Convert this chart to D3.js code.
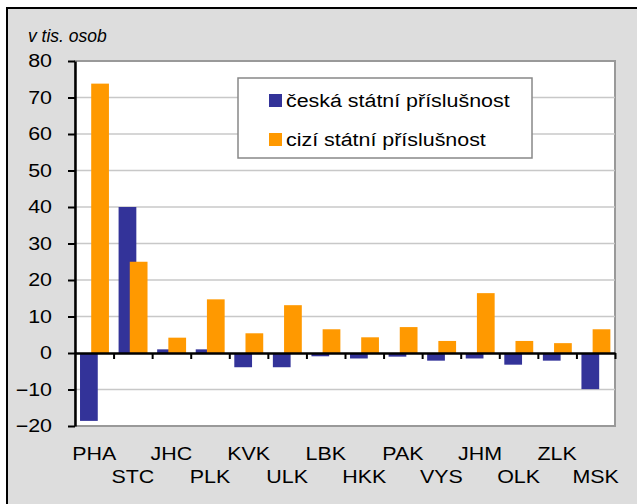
<!DOCTYPE html>
<html>
<head>
<meta charset="utf-8">
<script src="https://cdn.jsdelivr.net/npm/d3@7"></script>
<style>
  body { margin: 0; background: #fff; overflow: hidden; }
  text { font-family: "Liberation Sans", Arial, sans-serif; fill: #000; }
</style>
</head>
<body>
<div id="plot"></div>
<script>
// data (v tis. osob)
const categories = ["PHA", "STC", "JHC", "PLK", "KVK", "ULK", "LBK", "HKK", "PAK", "VYS", "JHM", "OLK", "ZLK", "MSK"];
const seriesNames = ["česká státní příslušnost", "cizí státní příslušnost"];
const ceska = [-18.6, 40.0, 1.0, 1.0, -3.9, -3.9, -0.9, -1.5, -1.0, -2.1, -1.5, -3.2, -2.1, -9.9];
const cizi = [73.8, 25.0, 4.2, 14.7, 5.4, 13.1, 6.5, 4.3, 7.1, 3.3, 16.4, 3.3, 2.7, 6.5];
const yTicks = [-20, -10, 0, 10, 20, 30, 40, 50, 60, 70, 80];
const colors = ["#333399", "#FF9900"];

const w = 637, h = 504;
const margin = {top: 61, right: 22, bottom: 78, left: 75};
const innerWidth = w - margin.left - margin.right;
const innerHeight = h - margin.top - margin.bottom;

// the original text is slightly stretched horizontally
const fs = 18;
const sx = 1.19;

const svg = d3.select("#plot").append("svg")
    .attr("width", w)
    .attr("height", h);

// outer frame
svg.append("rect")
    .attr("x", 7).attr("y", 8)
    .attr("width", w - 7).attr("height", h - 8)
    .attr("fill", "#dddddd");
svg.append("path")
    .attr("d", `M7,${h}V8H${w}`)
    .attr("fill", "none")
    .attr("stroke", "#000")
    .attr("stroke-width", 2);

const x = d3.scaleBand()
    .domain(categories)
    .range([0, innerWidth])
    .paddingInner(0);
const xLin = d3.scaleLinear()
    .domain([0, categories.length])
    .range([0, innerWidth]);
const y = d3.scaleLinear()
    .domain([-20, 80])
    .range([innerHeight, 0]);

const bw = x.bandwidth();
const barW = bw * 0.46;
const offset = d3.scalePoint().domain([0, 1]).range([bw * 0.13, bw * 0.42]);

const g = svg.append("g")
    .attr("transform", `translate(${margin.left},${margin.top})`);

// plot area
g.append("rect")
    .attr("width", innerWidth).attr("height", innerHeight)
    .attr("fill", "#fff")
    .attr("stroke", "#999")
    .attr("stroke-width", 2);

// gridlines
g.selectAll(".grid")
  .data(yTicks.filter(d => d > -20 && d < 80 && d !== 0))
  .enter().append("line")
    .attr("x1", 0).attr("x2", innerWidth)
    .attr("y1", d => y(d)).attr("y2", d => y(d))
    .attr("stroke", "#c8c8c8")
    .attr("stroke-width", 1.5);

// bars
const series = [ceska, cizi];
series.forEach((vals, si) => {
  g.append("g").selectAll("rect")
    .data(vals)
    .enter().append("rect")
      .attr("x", (d, i) => x(categories[i]) + offset(si))
      .attr("y", d => y(Math.max(0, d)))
      .attr("width", barW)
      .attr("height", d => Math.abs(y(d) - y(0)))
      .attr("fill", colors[si]);
});

// zero axis with category ticks
const xAxis = g.append("g")
    .attr("transform", `translate(0,${y(0)})`)
    .call(d3.axisBottom(xLin)
      .tickValues(d3.range(1, categories.length + 1))
      .tickFormat("")
      .tickSize(6)
      .tickSizeOuter(0));
xAxis.select(".domain").attr("stroke", "#000").attr("stroke-width", 2.5);
xAxis.selectAll(".tick line").attr("stroke", "#000").attr("stroke-width", 2);

// y axis
const yAxis = g.append("g")
    .call(d3.axisLeft(y).tickValues(yTicks).tickSize(7).tickSizeOuter(0));
yAxis.select(".domain").attr("stroke", "#000").attr("stroke-width", 2.5);
yAxis.selectAll(".tick line").attr("stroke", "#000").attr("stroke-width", 2);
yAxis.selectAll(".tick text")
    .attr("x", -23 / sx)
    .attr("transform", `scale(${sx},1)`)
    .attr("font-size", fs)
    .attr("fill", "#000");

// category labels, two staggered rows
g.selectAll(".cat")
  .data(categories)
  .enter().append("text")
    .attr("x", d => (x(d) + bw / 2) / sx)
    .attr("y", (d, i) => innerHeight + (i % 2 === 0 ? 34 : 57))
    .attr("transform", `scale(${sx},1)`)
    .attr("text-anchor", "middle")
    .attr("font-size", fs)
    .text(d => d);

// unit title
svg.append("text")
    .attr("x", 28).attr("y", 42)
    .attr("font-size", 17.5)
    .attr("font-style", "italic")
    .text("v tis. osob");

// legend
const legend = svg.append("g").attr("transform", "translate(238,78)");
legend.append("rect")
    .attr("width", 294).attr("height", 80)
    .attr("fill", "#fff")
    .attr("stroke", "#888")
    .attr("stroke-width", 1.5);
seriesNames.forEach((name, i) => {
  const row = legend.append("g").attr("transform", `translate(31,${16 + i * 39})`);
  row.append("rect")
      .attr("width", 13).attr("height", 13)
      .attr("fill", colors[i]);
  row.append("text")
      .attr("x", 17 / sx).attr("y", 13)
      .attr("transform", `scale(${sx},1)`)
      .attr("font-size", fs)
      .text(name);
});
</script>
</body>
</html>
